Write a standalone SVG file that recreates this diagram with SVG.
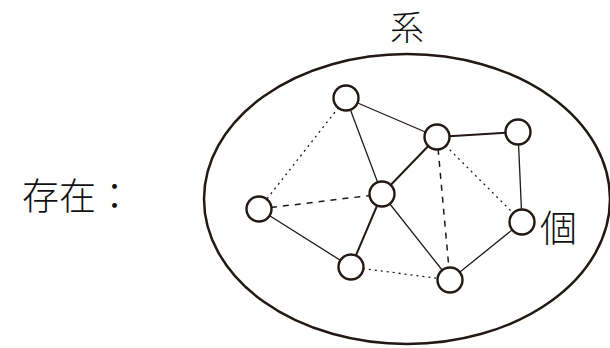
<svg xmlns="http://www.w3.org/2000/svg" width="610" height="348" viewBox="0 0 610 348">
<style>
.t{font-family:"Noto Sans CJK JP","Noto Sans CJK SC",sans-serif;fill:#111;font-weight:300;}
.n{fill:#fff;stroke:#231815;stroke-width:2.4;}
.s{stroke:#231815;stroke-width:1.3;fill:none;}
.sb{stroke:#231815;stroke-width:2;fill:none;}
.dot{stroke:#231815;stroke-width:1.3;stroke-dasharray:2 4;fill:none;}
.dash{stroke:#231815;stroke-width:1.5;stroke-dasharray:6 6;fill:none;}
</style>
<rect width="610" height="348" fill="#fff"/>
<g id="system">
<ellipse cx="407" cy="199" rx="203" ry="145" fill="none" stroke="#231815" stroke-width="2.5"/>
</g>
<g id="connectors">
<line class="s" x1="346" y1="98" x2="437" y2="137"/>
<line class="s" x1="346" y1="98" x2="382" y2="194"/>
<line class="sb" x1="437" y1="137" x2="518" y2="132"/>
<line class="sb" x1="437" y1="137" x2="382" y2="194"/>
<line class="s" x1="518" y1="132" x2="522" y2="222"/>
<line class="s" x1="259" y1="209" x2="351" y2="267"/>
<line class="sb" x1="382" y1="194" x2="351" y2="267"/>
<line class="s" x1="382" y1="194" x2="450" y2="280"/>
<line class="s" x1="450" y1="280" x2="522" y2="222"/>
<line class="dot" x1="346" y1="98" x2="259" y2="209"/>
<line class="dot" x1="437" y1="137" x2="522" y2="222"/>
<line class="dot" x1="351" y1="267" x2="450" y2="280"/>
<line class="dash" x1="259" y1="209" x2="382" y2="194"/>
<line class="dash" x1="437" y1="137" x2="450" y2="280"/>
</g>
<g id="nA"><circle class="n" cx="346" cy="98" r="12.5"/></g>
<g id="nB"><circle class="n" cx="437" cy="137" r="12.5"/></g>
<g id="nC"><circle class="n" cx="518" cy="132" r="12.5"/></g>
<g id="nD"><circle class="n" cx="382" cy="194" r="12.5"/></g>
<g id="nE"><circle class="n" cx="259" cy="209" r="12.5"/></g>
<g id="nF"><circle class="n" cx="522" cy="222" r="12.5"/></g>
<g id="nG"><circle class="n" cx="351" cy="267" r="12.5"/></g>
<g id="nH"><circle class="n" cx="450" cy="280" r="12.5"/></g>
<g id="labels">
<text class="t" x="407" y="40" font-size="34" text-anchor="middle">系</text>
<text class="t" x="22" y="210" font-size="37">存在：</text>
<text class="t" x="540" y="242" font-size="37">個</text>
</g>
</svg>
